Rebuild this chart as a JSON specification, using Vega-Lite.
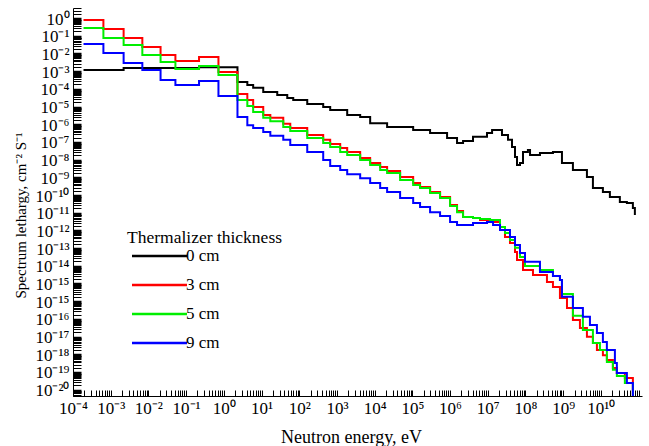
{
  "$schema": "https://vega.github.io/schema/vega-lite/v6.json",
  "width": 569,
  "height": 388,
  "autosize": "none",
  "padding": {"left": 73, "top": 8, "right": 7, "bottom": 50},
  "background": "white",
  "config": {
    "view": {"stroke": null},
    "font": "Liberation Serif",
    "style": {"guide-label": {"font": "Liberation Serif", "fill": "black"}, "guide-title": {"font": "Liberation Serif", "fill": "black"}},
    "axis": {"labelFont": "Liberation Serif", "titleFont": "Liberation Serif", "labelColor": "black", "titleColor": "black", "domainColor": "black", "tickColor": "black", "grid": false, "titleFontWeight": "normal"},
    "legend": {"labelFont": "Liberation Serif", "titleFont": "Liberation Serif"}
  },
  "data": {"values": [
    {"thickness": "0 cm", "energy": 1.9e-4, "flux": 1.3e-3},
    {"thickness": "0 cm", "energy": 2.2e-3, "flux": 1.7e-3},
    {"thickness": "0 cm", "energy": 0.22, "flux": 1.9e-3},
    {"thickness": "0 cm", "energy": 2.3, "flux": 2.8e-4},
    {"thickness": "0 cm", "energy": 4.2, "flux": 1.9e-4},
    {"thickness": "0 cm", "energy": 6.0, "flux": 1.3e-4},
    {"thickness": "0 cm", "energy": 11.1, "flux": 7.5e-5},
    {"thickness": "0 cm", "energy": 26.1, "flux": 5.1e-5},
    {"thickness": "0 cm", "energy": 48.1, "flux": 3.4e-5},
    {"thickness": "0 cm", "energy": 69.3, "flux": 2.7e-5},
    {"thickness": "0 cm", "energy": 163, "flux": 1.6e-5},
    {"thickness": "0 cm", "energy": 432, "flux": 1.07e-5},
    {"thickness": "0 cm", "energy": 662, "flux": 7.2e-6},
    {"thickness": "0 cm", "energy": 1870, "flux": 3.8e-6},
    {"thickness": "0 cm", "energy": 4130, "flux": 2.9e-6},
    {"thickness": "0 cm", "energy": 7600, "flux": 1.3e-6},
    {"thickness": "0 cm", "energy": 2.14e4, "flux": 7.9e-7},
    {"thickness": "0 cm", "energy": 1.05e5, "flux": 5.3e-7},
    {"thickness": "0 cm", "energy": 2.95e5, "flux": 3.6e-7},
    {"thickness": "0 cm", "energy": 8.33e5, "flux": 1.9e-7},
    {"thickness": "0 cm", "energy": 1.53e6, "flux": 9.9e-8},
    {"thickness": "0 cm", "energy": 2.21e6, "flux": 1.3e-7},
    {"thickness": "0 cm", "energy": 4.06e6, "flux": 2.2e-7},
    {"thickness": "0 cm", "energy": 9.55e6, "flux": 3.6e-7},
    {"thickness": "0 cm", "energy": 1.30e7, "flux": 5.3e-7},
    {"thickness": "0 cm", "energy": 2.38e7, "flux": 2.8e-7},
    {"thickness": "0 cm", "energy": 3.44e7, "flux": 1.5e-7},
    {"thickness": "0 cm", "energy": 4.39e7, "flux": 5.9e-8},
    {"thickness": "0 cm", "energy": 5.27e7, "flux": 1.6e-8},
    {"thickness": "0 cm", "energy": 5.96e7, "flux": 5.6e-9},
    {"thickness": "0 cm", "energy": 7.15e7, "flux": 7.3e-9},
    {"thickness": "0 cm", "energy": 8.59e7, "flux": 3.1e-8},
    {"thickness": "0 cm", "energy": 1.16e8, "flux": 4.0e-8},
    {"thickness": "0 cm", "energy": 1.32e8, "flux": 2.1e-8},
    {"thickness": "0 cm", "energy": 2.42e8, "flux": 2.7e-8},
    {"thickness": "0 cm", "energy": 5.35e8, "flux": 3.1e-8},
    {"thickness": "0 cm", "energy": 9.27e8, "flux": 7.3e-9},
    {"thickness": "0 cm", "energy": 1.81e9, "flux": 2.9e-9},
    {"thickness": "0 cm", "energy": 4.26e9, "flux": 1.2e-9},
    {"thickness": "0 cm", "energy": 6.14e9, "flux": 2.8e-10},
    {"thickness": "0 cm", "energy": 1.13e10, "flux": 1.7e-10},
    {"thickness": "0 cm", "energy": 1.73e10, "flux": 8.8e-11},
    {"thickness": "0 cm", "energy": 3.18e10, "flux": 4.6e-11},
    {"thickness": "0 cm", "energy": 4.89e10, "flux": 4.0e-11},
    {"thickness": "0 cm", "energy": 7.05e10, "flux": 2.1e-11},
    {"thickness": "0 cm", "energy": 7.96e10, "flux": 8.4e-12},

    {"thickness": "3 cm", "energy": 1.9e-4, "flux": 8.8e-1},
    {"thickness": "3 cm", "energy": 6.4e-4, "flux": 2.7e-1},
    {"thickness": "3 cm", "energy": 2.2e-3, "flux": 8.4e-2},
    {"thickness": "3 cm", "energy": 6.9e-3, "flux": 2.6e-2},
    {"thickness": "3 cm", "energy": 2.1e-2, "flux": 9.2e-3},
    {"thickness": "3 cm", "energy": 5.2e-2, "flux": 4.2e-3},
    {"thickness": "3 cm", "energy": 0.22, "flux": 7.1e-3},
    {"thickness": "3 cm", "energy": 0.72, "flux": 1.0e-3},
    {"thickness": "3 cm", "energy": 2.3, "flux": 5.8e-5},
    {"thickness": "3 cm", "energy": 4.2, "flux": 2.7e-5},
    {"thickness": "3 cm", "energy": 6.0, "flux": 1.07e-5},
    {"thickness": "3 cm", "energy": 11.1, "flux": 3.8e-6},
    {"thickness": "3 cm", "energy": 17.1, "flux": 2.6e-6},
    {"thickness": "3 cm", "energy": 37.7, "flux": 1.2e-6},
    {"thickness": "3 cm", "energy": 57.8, "flux": 6.9e-7},
    {"thickness": "3 cm", "energy": 163, "flux": 2.8e-7},
    {"thickness": "3 cm", "energy": 432, "flux": 1.5e-7},
    {"thickness": "3 cm", "energy": 662, "flux": 8.7e-8},
    {"thickness": "3 cm", "energy": 1220, "flux": 5.1e-8},
    {"thickness": "3 cm", "energy": 1870, "flux": 3.1e-8},
    {"thickness": "3 cm", "energy": 4130, "flux": 1.4e-8},
    {"thickness": "3 cm", "energy": 7600, "flux": 7.3e-9},
    {"thickness": "3 cm", "energy": 1.40e4, "flux": 4.3e-9},
    {"thickness": "3 cm", "energy": 2.14e4, "flux": 2.6e-9},
    {"thickness": "3 cm", "energy": 4.73e4, "flux": 1.2e-9},
    {"thickness": "3 cm", "energy": 1.05e5, "flux": 5.4e-10},
    {"thickness": "3 cm", "energy": 1.60e5, "flux": 3.2e-10},
    {"thickness": "3 cm", "energy": 2.95e5, "flux": 1.7e-10},
    {"thickness": "3 cm", "energy": 5.43e5, "flux": 8.8e-11},
    {"thickness": "3 cm", "energy": 1.0e6, "flux": 3.1e-11},
    {"thickness": "3 cm", "energy": 1.53e6, "flux": 1.4e-11},
    {"thickness": "3 cm", "energy": 2.21e6, "flux": 6.5e-12},
    {"thickness": "3 cm", "energy": 4.06e6, "flux": 5.7e-12},
    {"thickness": "3 cm", "energy": 6.23e6, "flux": 4.4e-12},
    {"thickness": "3 cm", "energy": 1.15e7, "flux": 3.4e-12},
    {"thickness": "3 cm", "energy": 2.11e7, "flux": 1.2e-12},
    {"thickness": "3 cm", "energy": 2.86e7, "flux": 4.8e-13},
    {"thickness": "3 cm", "energy": 3.88e7, "flux": 2.2e-13},
    {"thickness": "3 cm", "energy": 5.27e7, "flux": 6.8e-14},
    {"thickness": "3 cm", "energy": 5.96e7, "flux": 2.4e-14},
    {"thickness": "3 cm", "energy": 8.59e7, "flux": 6.6e-15},
    {"thickness": "3 cm", "energy": 1.58e8, "flux": 3.4e-15},
    {"thickness": "3 cm", "energy": 3.71e8, "flux": 1.4e-15},
    {"thickness": "3 cm", "energy": 5.35e8, "flux": 7.2e-16},
    {"thickness": "3 cm", "energy": 8.20e8, "flux": 1.7e-16},
    {"thickness": "3 cm", "energy": 1.26e9, "flux": 4.7e-17},
    {"thickness": "3 cm", "energy": 1.81e9, "flux": 9.9e-18},
    {"thickness": "3 cm", "energy": 2.78e9, "flux": 3.5e-18},
    {"thickness": "3 cm", "energy": 4.26e9, "flux": 1.1e-18},
    {"thickness": "3 cm", "energy": 6.14e9, "flux": 5.0e-19},
    {"thickness": "3 cm", "energy": 7.84e9, "flux": 2.0e-19},
    {"thickness": "3 cm", "energy": 1.13e10, "flux": 1.0e-19},
    {"thickness": "3 cm", "energy": 1.44e10, "flux": 5.4e-20},
    {"thickness": "3 cm", "energy": 2.08e10, "flux": 1.9e-20},
    {"thickness": "3 cm", "energy": 2.65e10, "flux": 1.0e-20},
    {"thickness": "3 cm", "energy": 4.32e10, "flux": 5.2e-21},
    {"thickness": "3 cm", "energy": 7.05e10, "flux": 5.0e-22},

    {"thickness": "5 cm", "energy": 1.9e-4, "flux": 3.1e-1},
    {"thickness": "5 cm", "energy": 6.4e-4, "flux": 8.4e-2},
    {"thickness": "5 cm", "energy": 2.2e-3, "flux": 3.4e-2},
    {"thickness": "5 cm", "energy": 6.9e-3, "flux": 9.2e-3},
    {"thickness": "5 cm", "energy": 2.1e-2, "flux": 3.7e-3},
    {"thickness": "5 cm", "energy": 5.2e-2, "flux": 1.5e-3},
    {"thickness": "5 cm", "energy": 0.22, "flux": 2.2e-3},
    {"thickness": "5 cm", "energy": 0.72, "flux": 6.9e-4},
    {"thickness": "5 cm", "energy": 2.3, "flux": 2.7e-5},
    {"thickness": "5 cm", "energy": 4.2, "flux": 1.2e-5},
    {"thickness": "5 cm", "energy": 6.0, "flux": 5.6e-6},
    {"thickness": "5 cm", "energy": 11.1, "flux": 2.6e-6},
    {"thickness": "5 cm", "energy": 17.1, "flux": 1.7e-6},
    {"thickness": "5 cm", "energy": 37.7, "flux": 7.9e-7},
    {"thickness": "5 cm", "energy": 57.8, "flux": 4.7e-7},
    {"thickness": "5 cm", "energy": 163, "flux": 1.9e-7},
    {"thickness": "5 cm", "energy": 432, "flux": 9.9e-8},
    {"thickness": "5 cm", "energy": 662, "flux": 5.9e-8},
    {"thickness": "5 cm", "energy": 1220, "flux": 3.1e-8},
    {"thickness": "5 cm", "energy": 1870, "flux": 2.1e-8},
    {"thickness": "5 cm", "energy": 4130, "flux": 1.1e-8},
    {"thickness": "5 cm", "energy": 7600, "flux": 5.6e-9},
    {"thickness": "5 cm", "energy": 1.40e4, "flux": 2.9e-9},
    {"thickness": "5 cm", "energy": 2.14e4, "flux": 2.0e-9},
    {"thickness": "5 cm", "energy": 4.73e4, "flux": 8.0e-10},
    {"thickness": "5 cm", "energy": 1.05e5, "flux": 4.2e-10},
    {"thickness": "5 cm", "energy": 1.60e5, "flux": 2.8e-10},
    {"thickness": "5 cm", "energy": 2.95e5, "flux": 1.5e-10},
    {"thickness": "5 cm", "energy": 5.43e5, "flux": 7.7e-11},
    {"thickness": "5 cm", "energy": 1.0e6, "flux": 2.7e-11},
    {"thickness": "5 cm", "energy": 1.53e6, "flux": 1.2e-11},
    {"thickness": "5 cm", "energy": 2.21e6, "flux": 6.5e-12},
    {"thickness": "5 cm", "energy": 4.06e6, "flux": 5.7e-12},
    {"thickness": "5 cm", "energy": 6.23e6, "flux": 5.0e-12},
    {"thickness": "5 cm", "energy": 1.15e7, "flux": 4.4e-12},
    {"thickness": "5 cm", "energy": 2.11e7, "flux": 1.8e-12},
    {"thickness": "5 cm", "energy": 2.86e7, "flux": 8.1e-13},
    {"thickness": "5 cm", "energy": 3.88e7, "flux": 3.3e-13},
    {"thickness": "5 cm", "energy": 5.27e7, "flux": 1.2e-13},
    {"thickness": "5 cm", "energy": 7.15e7, "flux": 3.6e-14},
    {"thickness": "5 cm", "energy": 9.70e7, "flux": 1.1e-14},
    {"thickness": "5 cm", "energy": 2.42e8, "flux": 6.6e-15},
    {"thickness": "5 cm", "energy": 5.35e8, "flux": 3.0e-15},
    {"thickness": "5 cm", "energy": 8.20e8, "flux": 1.8e-15},
    {"thickness": "5 cm", "energy": 9.27e8, "flux": 2.9e-16},
    {"thickness": "5 cm", "energy": 1.81e9, "flux": 1.7e-17},
    {"thickness": "5 cm", "energy": 3.33e9, "flux": 2.7e-18},
    {"thickness": "5 cm", "energy": 6.14e9, "flux": 5.0e-19},
    {"thickness": "5 cm", "energy": 9.42e9, "flux": 2.0e-19},
    {"thickness": "5 cm", "energy": 1.44e10, "flux": 4.2e-20},
    {"thickness": "5 cm", "energy": 2.08e10, "flux": 1.5e-20},
    {"thickness": "5 cm", "energy": 2.65e10, "flux": 6.8e-21},
    {"thickness": "5 cm", "energy": 4.32e10, "flux": 2.7e-21},
    {"thickness": "5 cm", "energy": 7.05e10, "flux": 5.0e-22},

    {"thickness": "9 cm", "energy": 1.9e-4, "flux": 3.9e-2},
    {"thickness": "9 cm", "energy": 6.4e-4, "flux": 1.2e-2},
    {"thickness": "9 cm", "energy": 2.2e-3, "flux": 3.3e-3},
    {"thickness": "9 cm", "energy": 6.9e-3, "flux": 1.3e-3},
    {"thickness": "9 cm", "energy": 2.1e-2, "flux": 3.6e-4},
    {"thickness": "9 cm", "energy": 5.2e-2, "flux": 1.9e-4},
    {"thickness": "9 cm", "energy": 0.22, "flux": 3.1e-4},
    {"thickness": "9 cm", "energy": 0.72, "flux": 4.5e-5},
    {"thickness": "9 cm", "energy": 2.3, "flux": 2.9e-6},
    {"thickness": "9 cm", "energy": 4.2, "flux": 1.0e-6},
    {"thickness": "9 cm", "energy": 6.0, "flux": 6.9e-7},
    {"thickness": "9 cm", "energy": 11.1, "flux": 4.1e-7},
    {"thickness": "9 cm", "energy": 17.1, "flux": 2.5e-7},
    {"thickness": "9 cm", "energy": 37.7, "flux": 1.5e-7},
    {"thickness": "9 cm", "energy": 57.8, "flux": 7.6e-8},
    {"thickness": "9 cm", "energy": 163, "flux": 3.1e-8},
    {"thickness": "9 cm", "energy": 432, "flux": 1.1e-8},
    {"thickness": "9 cm", "energy": 662, "flux": 5.0e-9},
    {"thickness": "9 cm", "energy": 1220, "flux": 2.9e-9},
    {"thickness": "9 cm", "energy": 1870, "flux": 1.7e-9},
    {"thickness": "9 cm", "energy": 4130, "flux": 1.0e-9},
    {"thickness": "9 cm", "energy": 7600, "flux": 5.4e-10},
    {"thickness": "9 cm", "energy": 1.40e4, "flux": 2.8e-10},
    {"thickness": "9 cm", "energy": 2.14e4, "flux": 1.7e-10},
    {"thickness": "9 cm", "energy": 4.73e4, "flux": 7.7e-11},
    {"thickness": "9 cm", "energy": 1.05e5, "flux": 4.0e-11},
    {"thickness": "9 cm", "energy": 1.60e5, "flux": 2.4e-11},
    {"thickness": "9 cm", "energy": 2.95e5, "flux": 1.2e-11},
    {"thickness": "9 cm", "energy": 5.43e5, "flux": 7.4e-12},
    {"thickness": "9 cm", "energy": 1.0e6, "flux": 3.4e-12},
    {"thickness": "9 cm", "energy": 1.53e6, "flux": 2.3e-12},
    {"thickness": "9 cm", "energy": 4.06e6, "flux": 3.0e-12},
    {"thickness": "9 cm", "energy": 9.55e6, "flux": 3.4e-12},
    {"thickness": "9 cm", "energy": 1.38e7, "flux": 2.3e-12},
    {"thickness": "9 cm", "energy": 2.11e7, "flux": 1.2e-12},
    {"thickness": "9 cm", "energy": 3.88e7, "flux": 4.8e-13},
    {"thickness": "9 cm", "energy": 5.27e7, "flux": 1.7e-13},
    {"thickness": "9 cm", "energy": 7.15e7, "flux": 6.0e-14},
    {"thickness": "9 cm", "energy": 9.70e7, "flux": 1.9e-14},
    {"thickness": "9 cm", "energy": 2.42e8, "flux": 5.1e-15},
    {"thickness": "9 cm", "energy": 5.35e8, "flux": 3.0e-15},
    {"thickness": "9 cm", "energy": 8.20e8, "flux": 1.8e-15},
    {"thickness": "9 cm", "energy": 9.27e8, "flux": 2.0e-16},
    {"thickness": "9 cm", "energy": 1.81e9, "flux": 4.7e-17},
    {"thickness": "9 cm", "energy": 3.33e9, "flux": 1.5e-17},
    {"thickness": "9 cm", "energy": 5.12e9, "flux": 5.1e-18},
    {"thickness": "9 cm", "energy": 7.84e9, "flux": 1.8e-18},
    {"thickness": "9 cm", "energy": 1.13e10, "flux": 5.6e-19},
    {"thickness": "9 cm", "energy": 1.44e10, "flux": 2.0e-19},
    {"thickness": "9 cm", "energy": 2.35e10, "flux": 3.7e-20},
    {"thickness": "9 cm", "energy": 2.65e10, "flux": 1.0e-20},
    {"thickness": "9 cm", "energy": 4.89e10, "flux": 2.7e-21},
    {"thickness": "9 cm", "energy": 7.05e10, "flux": 5.0e-22}
  ]},
  "mark": {"type": "line", "interpolate": "step-after", "strokeWidth": 2},
  "encoding": {
    "x": {
      "field": "energy", "type": "quantitative",
      "scale": {"type": "log", "domain": [1e-4, 1.23e11], "nice": false},
      "axis": {
        "title": "Neutron energy, eV",
        "titleFont": "Liberation Serif",
        "titleFontSize": 18,
        "titleFontWeight": "normal",
        "titleX": 278,
        "titleY": 46,
        "titleBaseline": "alphabetic",
        "labelFont": "Liberation Serif",
        "labelFontSize": 17,
        "labelColor": "black",
        "tickCount": 100,
        "labelOverlap": false,
        "labelFlush": false,
        "labelBound": false,
        "labelPadding": 10,
        "labelExpr": "(abs(log(datum.value)/LN10 - round(log(datum.value)/LN10)) < 0.001 && datum.value < 5e10) ? '10' + replace(replace(replace(replace(replace(replace(replace(replace(replace(replace(replace(toString(round(log(datum.value)/LN10)),'-','⁻'),regexp('0','g'),'⁰'),regexp('1','g'),'¹'),regexp('2','g'),'²'),regexp('3','g'),'³'),regexp('4','g'),'⁴'),regexp('5','g'),'⁵'),regexp('6','g'),'⁶'),regexp('7','g'),'⁷'),regexp('8','g'),'⁸'),regexp('9','g'),'⁹') : ''",
        "tickSize": -6,
        "tickWidth": 1
      }
    },
    "y": {
      "field": "flux", "type": "quantitative",
      "scale": {"type": "log", "domain": [5e-22, 4.2], "nice": false},
      "axis": {
        "title": "Spectrum lethargy, cm⁻² S⁻¹",
        "titleFont": "Liberation Serif",
        "titleFontSize": 15,
        "titleFontWeight": "normal",
        "titleAngle": -90,
        "titleX": -48,
        "titleY": 207,
        "titleAlign": "center",
        "titleBaseline": "alphabetic",
        "labelFont": "Liberation Serif",
        "labelFontSize": 17,
        "labelColor": "black",
        "tickCount": 100,
        "labelOverlap": false,
        "labelBound": false,
        "labelFlush": false,
        "labelPadding": 12,
        "labelExpr": "abs(log(datum.value)/LN10 - round(log(datum.value)/LN10)) < 0.001 ? '10' + replace(replace(replace(replace(replace(replace(replace(replace(replace(replace(replace(toString(round(log(datum.value)/LN10) <= -16 ? round(log(datum.value)/LN10) + 1 : round(log(datum.value)/LN10)),'-','⁻'),regexp('0','g'),'⁰'),regexp('1','g'),'¹'),regexp('2','g'),'²'),regexp('3','g'),'³'),regexp('4','g'),'⁴'),regexp('5','g'),'⁵'),regexp('6','g'),'⁶'),regexp('7','g'),'⁷'),regexp('8','g'),'⁸'),regexp('9','g'),'⁹') : ''",
        "tickSize": -8,
        "tickWidth": {"condition": {"test": "abs(log(datum.value)/LN10 - round(log(datum.value)/LN10)) < 0.001", "value": 3.5}, "value": 1}
      }
    },
    "color": {
      "field": "thickness", "type": "nominal",
      "scale": {"domain": ["0 cm", "3 cm", "5 cm", "9 cm"], "range": ["#000000", "#ff0000", "#00ee00", "#0000ff"]},
      "legend": {
        "title": "Thermalizer thickness",
        "orient": "none",
        "legendX": 54,
        "legendY": 221,
        "padding": 0,
        "titleFont": "Liberation Serif",
        "titleFontSize": 17.5,
        "titleFontWeight": "normal",
        "titleColor": "black",
        "titlePadding": 1,
        "labelFont": "Liberation Serif",
        "labelFontSize": 17,
        "labelColor": "black",
        "symbolType": "M-5,0H5",
        "symbolSize": 121,
        "symbolStrokeWidth": 2.5,
        "symbolOffset": 24,
        "labelOffset": 18,
        "rowPadding": 11
      }
    }
  }
}
